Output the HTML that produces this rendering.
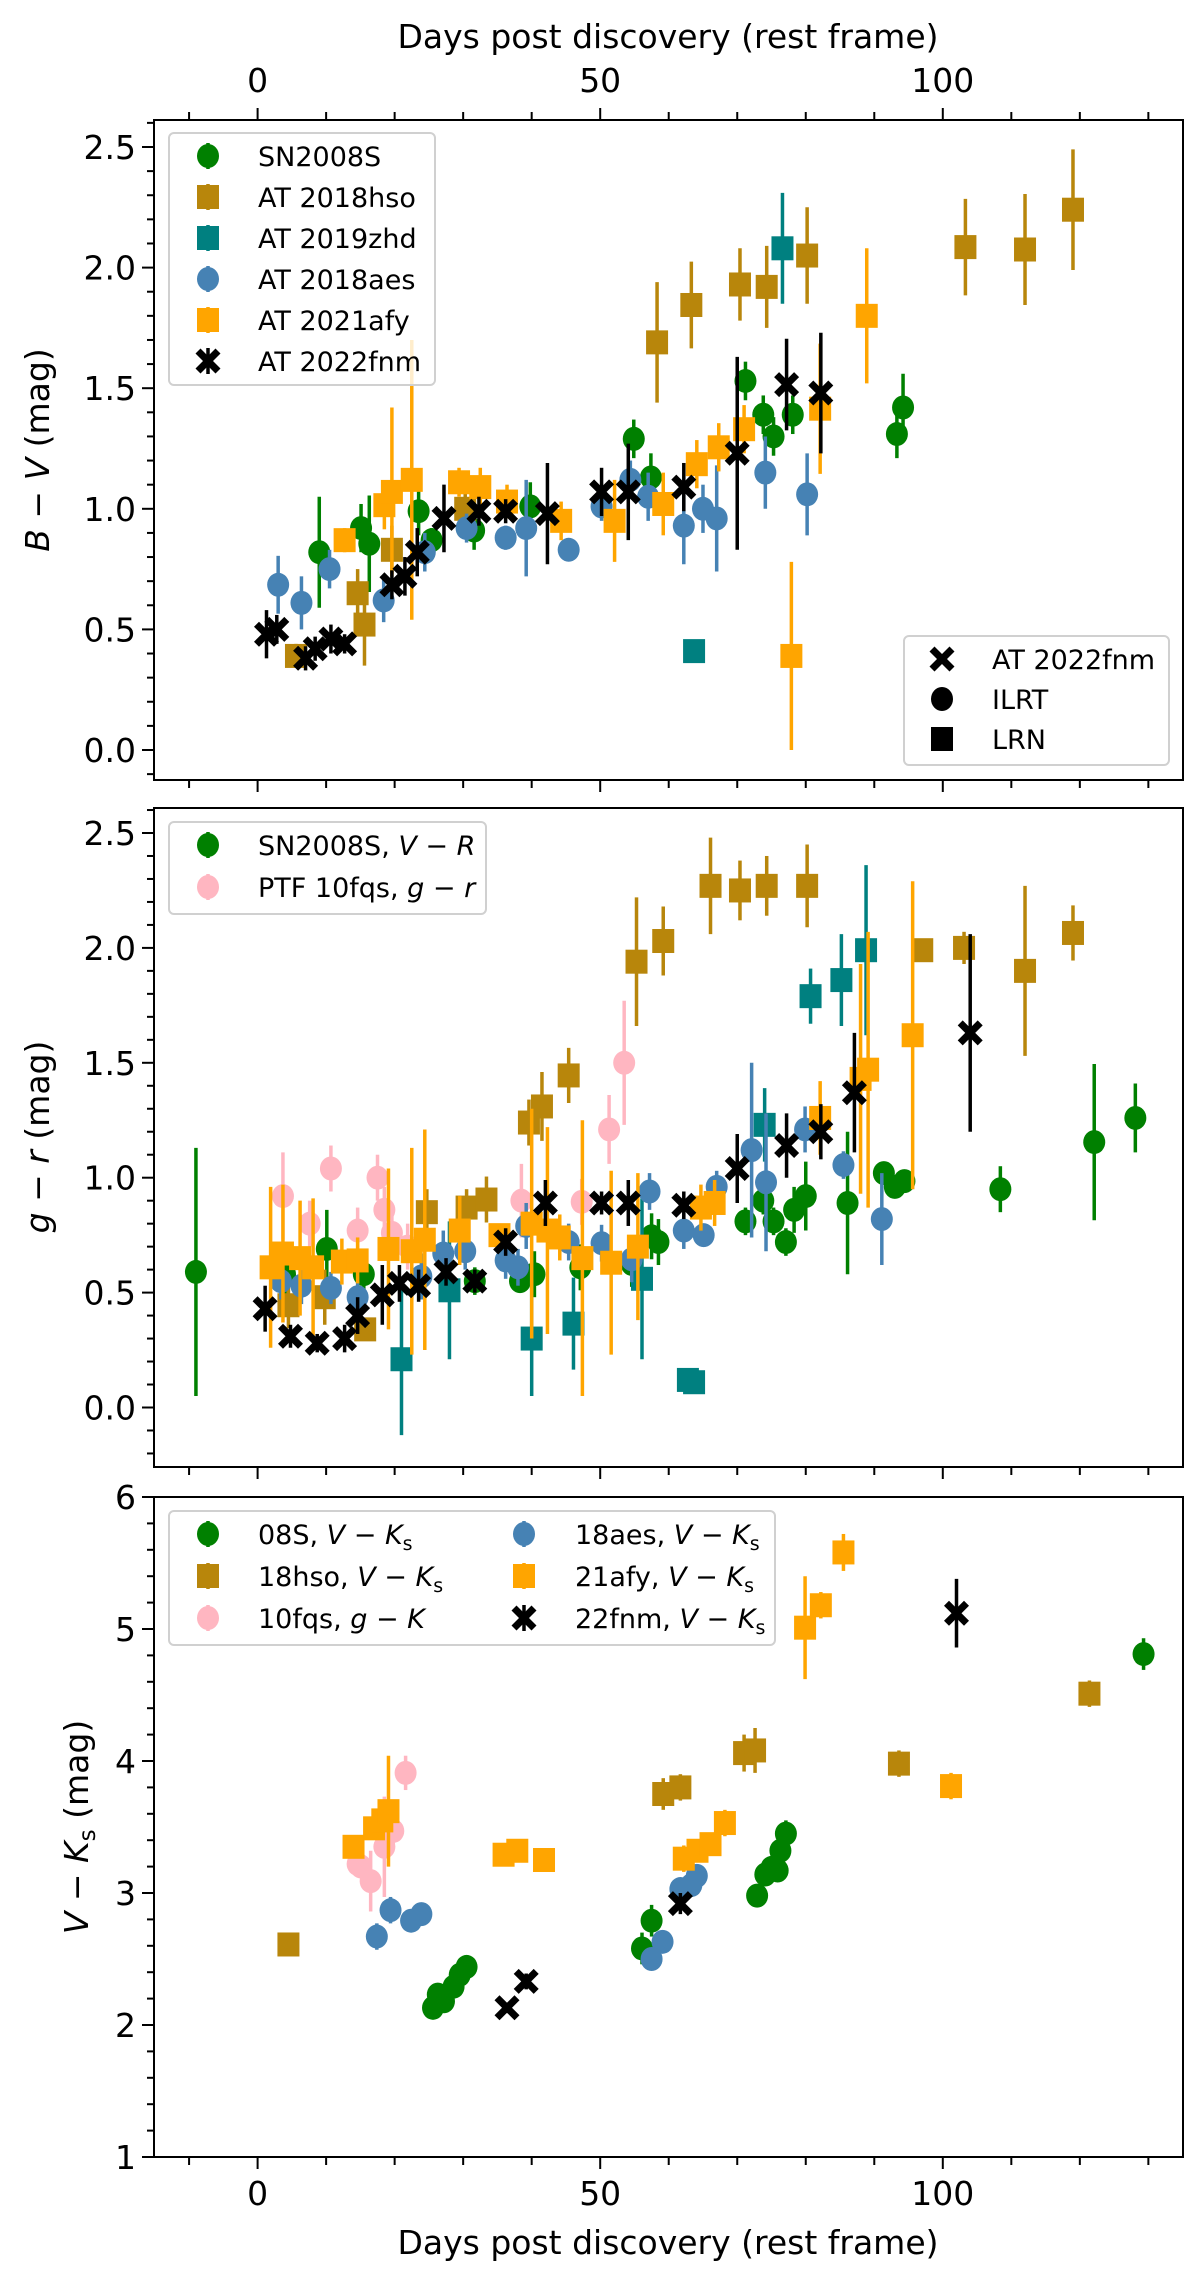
<!DOCTYPE html>
<html><head><meta charset="utf-8">
<style>
html,body{margin:0;padding:0;background:#fff;}
svg{display:block;font-family:"DejaVu Sans","Liberation Sans",sans-serif;}
</style></head>
<body>
<svg id="fig" width="1200" height="2272" viewBox="0 0 1200 2272" xmlns="http://www.w3.org/2000/svg">
<rect x="0" y="0" width="1200" height="2272" fill="#fff"/>
<g id="marks"></g>
<rect x="154" y="120" width="1029" height="660" fill="none" stroke="#000" stroke-width="2"/>
<rect x="154" y="808" width="1029" height="659" fill="none" stroke="#000" stroke-width="2"/>
<rect x="154" y="1497" width="1029" height="660" fill="none" stroke="#000" stroke-width="2"/>
<g id="ticks"></g>
<text x="668" y="48" font-size="33" text-anchor="middle">Days post discovery (rest frame)</text>
<text x="668" y="2254" font-size="33" text-anchor="middle">Days post discovery (rest frame)</text>
<text transform="translate(49,450) rotate(-90)" font-size="33" text-anchor="middle"><tspan font-style="italic">B</tspan> − <tspan font-style="italic">V</tspan> (mag)</text>
<text transform="translate(49,1137) rotate(-90)" font-size="33" text-anchor="middle"><tspan font-style="italic">g</tspan> − <tspan font-style="italic">r</tspan> (mag)</text>
<text transform="translate(88,1827) rotate(-90)" font-size="33" text-anchor="middle"><tspan font-style="italic">V</tspan> − <tspan font-style="italic">K</tspan><tspan font-size="23" dy="7">s</tspan><tspan dy="-7"> (mag)</tspan></text>
<g id="legends"></g>
</svg>
<script>
// ---------- Panel 1: B-V ----------
const bv_s08_day=[9.0,15.1,16.3,23.5,25.4,31.6,39.8,54.9,57.4,71.2,73.8,75.3,78.1,93.3,94.2];
const bv_s08_val=[0.82,0.92,0.855,0.99,0.87,0.91,1.01,1.29,1.13,1.53,1.39,1.30,1.39,1.31,1.42];
const bv_s08_err=[0.23,0.1,0.2,0.1,0.05,0.08,0.1,0.08,0.1,0.08,0.08,0.08,0.08,0.1,0.14];
const bv_hso_day=[5.6,14.6,15.6,19.6,30.3,58.3,63.3,70.4,74.3,80.2,103.3,112,119];
const bv_hso_val=[0.39,0.65,0.52,0.83,1.0,1.69,1.845,1.93,1.92,2.05,2.085,2.075,2.24];
const bv_hso_err=[0.05,0.1,0.17,0.1,0.1,0.25,0.18,0.15,0.17,0.2,0.2,0.23,0.25];
const bv_zhd_day=[63.7,76.6];
const bv_zhd_val=[0.41,2.08];
const bv_zhd_err=[0.02,0.23];
const bv_aes_day=[3.0,6.4,10.5,18.4,24.4,30.5,36.2,39.2,45.4,50.2,54.4,57.0,62.2,65.0,67.0,74.1,80.2];
const bv_aes_val=[0.685,0.61,0.75,0.62,0.82,0.92,0.88,0.92,0.83,1.01,1.12,1.05,0.93,1.0,0.96,1.15,1.06];
const bv_aes_err=[0.12,0.11,0.08,0.09,0.08,0.06,0.05,0.2,0.03,0.06,0.08,0.1,0.16,0.1,0.22,0.15,0.17];
const bv_afy_day=[12.7,18.5,19.6,22.5,29.4,32.5,36.4,44.3,52.1,59.2,64.1,67.3,71.0,77.9,82.1,88.9];
const bv_afy_val=[0.87,1.015,1.07,1.12,1.11,1.09,1.03,0.95,0.95,1.02,1.185,1.255,1.33,0.39,1.415,1.8];
const bv_afy_err=[0.05,0.1,0.35,0.58,0.06,0.08,0.07,0.08,0.17,0.13,0.1,0.1,0.1,0.39,0.27,0.28];
const bv_fnm_day=[1.3,2.8,7.0,8.4,10.7,12.7,19.6,21.5,23.3,27.2,32.3,36.2,42.3,50.2,54.1,62.2,70.0,77.2,82.2];
const bv_fnm_val=[0.48,0.5,0.38,0.42,0.46,0.44,0.685,0.72,0.82,0.96,0.99,0.99,0.98,1.07,1.07,1.09,1.23,1.515,1.48];
const bv_fnm_err=[0.1,0.06,0.05,0.05,0.06,0.04,0.06,0.08,0.1,0.14,0.06,0.05,0.21,0.1,0.2,0.1,0.4,0.19,0.25];
// ---------- Panel 2: g-r ----------
const gr_s08_day=[-9,4,10.1,15.5,31.7,38.3,40.4,47.1,54.6,57.5,58.5,71.2,73.8,75.3,77.1,78.3,80,86.1,91.4,93,94.4,108.4,122.1,128.1];
const gr_s08_val=[0.59,0.58,0.69,0.58,0.55,0.55,0.58,0.61,0.625,0.745,0.72,0.81,0.9,0.81,0.72,0.86,0.92,0.89,1.02,0.96,0.985,0.95,1.155,1.26];
const gr_s08_err=[0.54,0.1,0.17,0.1,0.06,0.05,0.1,0.1,0.1,0.1,0.1,0.06,0.06,0.06,0.06,0.1,0.15,0.31,0.05,0.05,0.05,0.1,0.34,0.15];
const gr_fqs_day=[3.7,7.6,10.7,14.6,17.5,18.5,19.6,21.9,38.5,47.3,51.3,53.5];
const gr_fqs_val=[0.92,0.8,1.04,0.77,1.0,0.86,0.76,0.7,0.9,0.895,1.21,1.5];
const gr_fqs_err=[0.19,0.1,0.1,0.1,0.1,0.1,0.1,0.1,0.16,0.1,0.15,0.27];
const gr_hso_day=[4.5,9.8,15.7,24.7,30.5,33.4,39.6,41.5,45.4,55.3,59.2,66.1,70.4,74.3,80.2,97,103.1,112,119];
const gr_hso_val=[0.445,0.48,0.34,0.85,0.87,0.905,1.24,1.31,1.445,1.94,2.03,2.27,2.25,2.27,2.27,1.99,2.0,1.9,2.065];
const gr_hso_err=[0.1,0.12,0.05,0.1,0.08,0.1,0.1,0.15,0.12,0.28,0.15,0.21,0.13,0.13,0.18,0.05,0.07,0.37,0.12];
const gr_zhd_day=[21,28,40,46.1,56.1,62.8,63.7,74,80.7,85.2,88.8];
const gr_zhd_val=[0.21,0.51,0.3,0.365,0.56,0.12,0.11,1.23,1.79,1.86,1.99];
const gr_zhd_err=[0.33,0.3,0.25,0.2,0.35,0.02,0.02,0.16,0.12,0.2,0.37];
const gr_aes_day=[3.4,6.4,10.7,14.6,23.9,27.1,30.3,36.2,38.0,39.2,45.4,50.2,54.6,57.2,62.2,65.1,67.0,72.1,74.2,79.9,85.5,91.1];
const gr_aes_val=[0.55,0.53,0.52,0.48,0.57,0.67,0.68,0.64,0.61,0.79,0.72,0.715,0.645,0.94,0.77,0.75,0.96,1.12,0.98,1.21,1.055,0.82];
const gr_aes_err=[0.08,0.08,0.07,0.07,0.1,0.1,0.08,0.08,0.08,0.1,0.08,0.08,0.1,0.08,0.08,0.05,0.07,0.38,0.3,0.1,0.06,0.2];
const gr_afy_day=[1.9,3.7,6.2,8.1,12.3,14.6,19.1,22.5,24.4,29.5,35.3,40.0,42.3,44.1,47.4,51.6,55.5,64.7,66.7,82.1,88.0,89.1,95.6];
const gr_afy_val=[0.61,0.67,0.65,0.61,0.635,0.64,0.69,0.68,0.73,0.77,0.75,0.8,0.77,0.74,0.65,0.63,0.7,0.87,0.89,1.26,1.43,1.47,1.62];
const gr_afy_err=[0.35,0.3,0.25,0.3,0.1,0.1,0.35,0.45,0.48,0.15,0.05,0.5,0.45,0.1,0.6,0.4,0.32,0.1,0.1,0.16,0.5,0.6,0.67];
const gr_fnm_day=[1.1,4.8,8.7,12.7,14.6,18.2,20.7,23.5,27.5,31.7,36.2,42.0,50.2,54.1,62.2,70.0,77.2,82.2,87.1,104];
const gr_fnm_val=[0.43,0.31,0.28,0.30,0.40,0.49,0.54,0.53,0.59,0.55,0.72,0.89,0.89,0.89,0.88,1.04,1.14,1.2,1.37,1.63];
const gr_fnm_err=[0.1,0.05,0.04,0.06,0.08,0.13,0.08,0.07,0.06,0.05,0.06,0.1,0.05,0.1,0.06,0.15,0.14,0.12,0.26,0.43];
// ---------- Panel 3: V-Ks ----------
const vk_s08_day=[25.6,26.3,27.2,28.6,29.5,30.5,56.1,57.5,72.9,74.1,75.0,75.9,76.3,77.1,129.3];
const vk_s08_val=[2.13,2.23,2.18,2.29,2.38,2.44,2.58,2.79,2.98,3.14,3.19,3.17,3.32,3.45,4.81];
const vk_s08_err=[0.06,0.08,0.06,0.06,0.06,0.06,0.12,0.12,0.06,0.06,0.06,0.06,0.06,0.1,0.12];
const vk_hso_day=[4.5,59.2,61.7,71.0,72.6,93.6,121.4];
const vk_hso_val=[2.61,3.75,3.80,4.06,4.08,3.98,4.51];
const vk_hso_err=[0.05,0.12,0.1,0.14,0.17,0.1,0.1];
const vk_fqs_day=[14.6,15.1,16.5,18.5,19.8,21.6];
const vk_fqs_val=[3.22,3.2,3.09,3.35,3.47,3.91];
const vk_fqs_err=[0.08,0.08,0.23,0.38,0.1,0.13];
const vk_aes_day=[17.4,19.4,22.4,23.9,57.5,59.1,61.7,63.3,64.1];
const vk_aes_val=[2.67,2.87,2.79,2.84,2.5,2.63,3.03,3.06,3.13];
const vk_aes_err=[0.1,0.1,0.06,0.06,0.06,0.06,0.06,0.06,0.06];
const vk_afy_day=[14.0,17.0,18.2,19.1,35.9,37.9,41.8,62.2,64.2,66.1,68.2,79.9,82.2,85.5,101.2];
const vk_afy_val=[3.35,3.49,3.55,3.62,3.29,3.32,3.25,3.26,3.32,3.37,3.53,5.01,5.18,5.58,3.81];
const vk_afy_err=[0.06,0.08,0.08,0.42,0.05,0.05,0.05,0.1,0.06,0.08,0.1,0.39,0.1,0.14,0.1];
const vk_fnm_day=[36.4,39.2,61.7,102.0];
const vk_fnm_val=[2.13,2.33,2.92,5.12];
const vk_fnm_err=[0.04,0.06,0.08,0.26];
const xTickLabels=["0","50","100"];
const bvTickLabels=["0.0","0.5","1.0","1.5","2.0","2.5"];
const grTickLabels=["0.0","0.5","1.0","1.5","2.0","2.5"];
const vkTickLabels=["1","2","3","4","5","6"];

const NS="http://www.w3.org/2000/svg";
const COL={s08:"#008000",hso:"#b8860b",zhd:"#008080",aes:"#4682b4",afy:"#ffa500",fnm:"#000000",fqs:"#ffb6c1"};
function xScale(d){return 257.6+d*6.852;}
const panels={
 bv:{y:v=>750-v*241.2,top:120,bot:780},
 gr:{y:v=>1407.5-v*229.8,top:808,bot:1467},
 vk:{y:v=>2157-(v-1)*132,top:1497,bot:2157}
};
const marks=document.getElementById('marks');
const ticks=document.getElementById('ticks');
const legends=document.getElementById('legends');
function mk(tag,attrs,parent){const e=document.createElementNS(NS,tag);for(const k in attrs)e.setAttribute(k,attrs[k]);parent.appendChild(e);return e;}
const XPTS=[[-0.5,-0.3],[-0.3,-0.5],[0,-0.2],[0.3,-0.5],[0.5,-0.3],[0.2,0],[0.5,0.3],[0.3,0.5],[0,0.2],[-0.3,0.5],[-0.5,0.3],[-0.2,0]];
function marker(shape,cx,cy,color,parent,s){
  s=s||1;
  if(shape==='o') return mk('ellipse',{cx:cx,cy:cy,rx:11*s,ry:12*s,fill:color},parent);
  if(shape==='s') return mk('rect',{x:cx-11*s,y:cy-12*s,width:22*s,height:24*s,fill:color},parent);
  const sz=25*s;
  const pts=XPTS.map(p=>(cx+p[0]*sz).toFixed(1)+','+(cy+p[1]*sz).toFixed(1)).join(' ');
  return mk('polygon',{points:pts,fill:color},parent);
}
function series(panel,name,days,vals,errs,shape,color){
  const p=panels[panel];
  const g=mk('g',{},marks);
  
  
  for(let i=0;i<days.length;i++){
    const cx=xScale(days[i]);
    const y1=p.y(vals[i]-errs[i]), y2=p.y(vals[i]+errs[i]);
    const eb=mk('line',{x1:cx,x2:cx,y1:Math.min(Math.max(y1,p.top),p.bot),y2:Math.min(Math.max(y2,p.top),p.bot),stroke:color,'stroke-width':3.5},g);
    
    
    const m=marker(shape,cx,p.y(vals[i]),color,g);
    
    
  }
}
series('bv','sn2008s',bv_s08_day,bv_s08_val,bv_s08_err,'o',COL.s08);
series('bv','at2018hso',bv_hso_day,bv_hso_val,bv_hso_err,'s',COL.hso);
series('bv','at2019zhd',bv_zhd_day,bv_zhd_val,bv_zhd_err,'s',COL.zhd);
series('bv','at2018aes',bv_aes_day,bv_aes_val,bv_aes_err,'o',COL.aes);
series('bv','at2021afy',bv_afy_day,bv_afy_val,bv_afy_err,'s',COL.afy);
series('bv','at2022fnm',bv_fnm_day,bv_fnm_val,bv_fnm_err,'x',COL.fnm);

series('gr','sn2008s',gr_s08_day,gr_s08_val,gr_s08_err,'o',COL.s08);
series('gr','ptf10fqs',gr_fqs_day,gr_fqs_val,gr_fqs_err,'o',COL.fqs);
series('gr','at2018hso',gr_hso_day,gr_hso_val,gr_hso_err,'s',COL.hso);
series('gr','at2019zhd',gr_zhd_day,gr_zhd_val,gr_zhd_err,'s',COL.zhd);
series('gr','at2018aes',gr_aes_day,gr_aes_val,gr_aes_err,'o',COL.aes);
series('gr','at2021afy',gr_afy_day,gr_afy_val,gr_afy_err,'s',COL.afy);
series('gr','at2022fnm',gr_fnm_day,gr_fnm_val,gr_fnm_err,'x',COL.fnm);

series('vk','sn2008s',vk_s08_day,vk_s08_val,vk_s08_err,'o',COL.s08);
series('vk','at2018hso',vk_hso_day,vk_hso_val,vk_hso_err,'s',COL.hso);
series('vk','ptf10fqs',vk_fqs_day,vk_fqs_val,vk_fqs_err,'o',COL.fqs);
series('vk','at2018aes',vk_aes_day,vk_aes_val,vk_aes_err,'o',COL.aes);
series('vk','at2021afy',vk_afy_day,vk_afy_val,vk_afy_err,'s',COL.afy);
series('vk','at2022fnm',vk_fnm_day,vk_fnm_val,vk_fnm_err,'x',COL.fnm);

function xTicks(yLine,dir,labels,labelY){
  for(let d=-10;d<=130;d+=10){
    const x=xScale(d);
    const major=(d%50===0);
    const t=mk('line',{x1:x,x2:x,y1:yLine,y2:yLine+dir*(major?12:8),stroke:'#000','stroke-width':2},ticks);
    
    
  }
  if(labels){
    for(let i=0;i<labels.length;i++){
      const t=mk('text',{x:xScale(i*50),y:labelY,'font-size':33,'text-anchor':'middle'},ticks);
      t.textContent=labels[i];
      
      
    }
  }
}
xTicks(120,-1,xTickLabels,92);
xTicks(780,1,null);
xTicks(1467,1,null);
xTicks(2157,1,xTickLabels,2205);
function yTicks(panel,minV,maxV,minorStep,majorStep,labels,firstMajor){
  const p=panels[panel];
  const n=Math.round((maxV-minV)/minorStep);
  for(let i=0;i<=n;i++){
    const v=minV+i*minorStep;
    const y=p.y(v);
    if(y<p.top-0.5||y>p.bot+0.5) continue;
    const rel=(v-firstMajor)/majorStep;
    const major=Math.abs(rel-Math.round(rel))<1e-6;
    const t=mk('line',{x1:154,x2:154-(major?12:7),y1:y,y2:y,stroke:'#000','stroke-width':2},ticks);
    
    
  }
  for(let i=0;i<labels.length;i++){
    const y=p.y(firstMajor+i*majorStep);
    const t=mk('text',{x:136,y:y+12,'font-size':33,'text-anchor':'end'},ticks);
    t.textContent=labels[i];
    
    
  }
}
yTicks('bv',-0.1,2.6,0.1,0.5,bvTickLabels,0);
yTicks('gr',-0.3,2.6,0.1,0.5,grTickLabels,0);
yTicks('vk',1,6,0.2,1,vkTickLabels,1);

function legendBox(name,x,y,w,h){
  const r=mk('rect',{x:x,y:y,width:w,height:h,rx:5,fill:'#fff','fill-opacity':0.8,stroke:'#d0d0d0','stroke-width':2},legends);
  
  
}
function legendEntry(shape,color,mx,tx,y,html,eb){
  const g=mk('g',{},legends);
  
  
  if(eb) mk('line',{x1:mx,x2:mx,y1:y-13,y2:y+13,stroke:color,'stroke-width':3.5},g);
  marker(shape,mx,y,color,g,1);
  const t=mk('text',{x:tx,y:y+10,'font-size':27},g);
  t.innerHTML=html;
}
legendBox('bv-legend',169,133,266,252);
const bvLeg=[['o',COL.s08,'SN2008S'],['s',COL.hso,'AT 2018hso'],['s',COL.zhd,'AT 2019zhd'],['o',COL.aes,'AT 2018aes'],['s',COL.afy,'AT 2021afy'],['x',COL.fnm,'AT 2022fnm']];
bvLeg.forEach((e,i)=>legendEntry(e[0],e[1],208,258,156+i*41,e[2],true));
legendBox('marker-type-legend',904,636,265,129);
legendEntry('x','#000',942,992,659,'AT 2022fnm',false);
legendEntry('o','#000',942,992,699,'ILRT',false);
legendEntry('s','#000',942,992,739,'LRN',false);
legendBox('gr-legend',169,822,317,92);
legendEntry('o',COL.s08,208,258,845,'SN2008S, <tspan font-style="italic">V</tspan> − <tspan font-style="italic">R</tspan>',true);
legendEntry('o',COL.fqs,208,258,887,'PTF 10fqs, <tspan font-style="italic">g</tspan> − <tspan font-style="italic">r</tspan>',true);
legendBox('vk-legend',169,1511,606,134);
const ks='<tspan font-style="italic">V</tspan> − <tspan font-style="italic">K</tspan><tspan font-size="19" dy="6">s</tspan>';
legendEntry('o',COL.s08,208,258,1534,'08S, '+ks,true);
legendEntry('s',COL.hso,208,258,1576,'18hso, '+ks,true);
legendEntry('o',COL.fqs,208,258,1618,'10fqs, <tspan font-style="italic">g</tspan> − <tspan font-style="italic">K</tspan>',true);
legendEntry('o',COL.aes,524,575,1534,'18aes, '+ks,true);
legendEntry('s',COL.afy,524,575,1576,'21afy, '+ks,true);
legendEntry('x',COL.fnm,524,575,1618,'22fnm, '+ks,true);
</script>
</body></html>
